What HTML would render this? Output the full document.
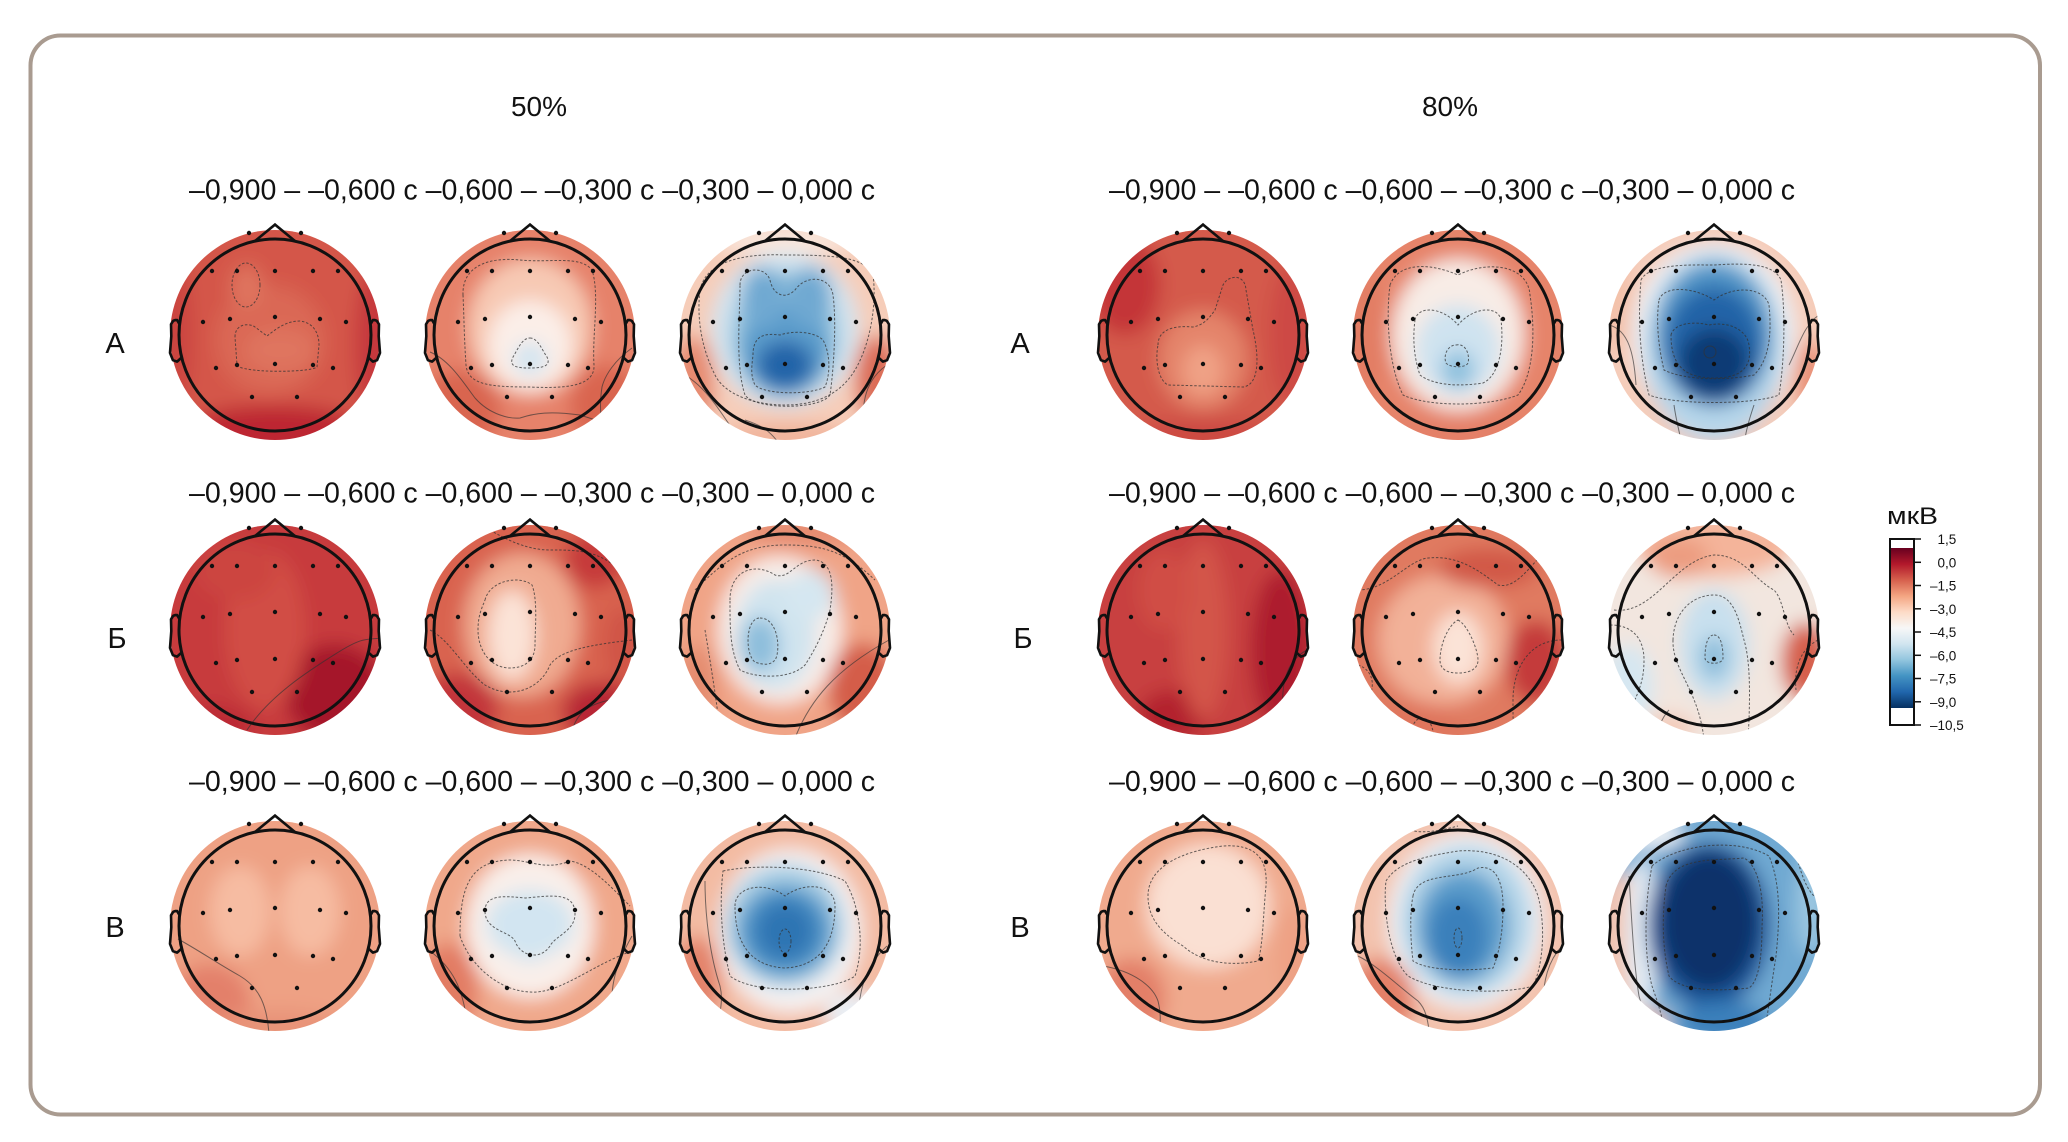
<!DOCTYPE html>
<html><head><meta charset="utf-8">
<style>
html,body{margin:0;padding:0;background:#fff}
svg{display:block}
.d{fill:none;stroke:#333;stroke-width:1;stroke-dasharray:2.5 1.8;opacity:.75}
.s{fill:none;stroke:#333;stroke-width:1;opacity:.65}
.t{font-size:29px;fill:#111}
.cl{font-size:13.5px;fill:#111}
</style></head>
<body>
<svg width="2068" height="1142" viewBox="0 0 2068 1142" xmlns="http://www.w3.org/2000/svg" font-family="'Liberation Sans', 'DejaVu Sans', sans-serif">
<defs>
<clipPath id="dk"><circle r="105"/></clipPath>
<filter id="bl" x="-50%" y="-50%" width="200%" height="200%"><feGaussianBlur stdDeviation="9"/></filter>
<linearGradient id="cb" x1="0" y1="0" x2="0" y2="1">
<stop offset="0" stop-color="#67001f"/><stop offset="0.1" stop-color="#b2182b"/><stop offset="0.2" stop-color="#d6604d"/><stop offset="0.3" stop-color="#f4a582"/><stop offset="0.4" stop-color="#fddbc7"/><stop offset="0.5" stop-color="#f7f7f7"/><stop offset="0.6" stop-color="#d1e5f0"/><stop offset="0.7" stop-color="#92c5de"/><stop offset="0.8" stop-color="#4393c3"/><stop offset="0.9" stop-color="#2166ac"/><stop offset="1" stop-color="#053061"/>
</linearGradient>
<g id="hd">
<circle r="96" fill="none" stroke="#111" stroke-width="3"/>
<polyline points="-20.1,-93.9 0,-110.4 20.1,-93.9" fill="none" stroke="#111" stroke-width="2.6"/>
<path d="M95.4,-10.7 L97.9,-14.9 99.5,-15 101.7,-14.3 104,-10.7 103.7,1.1 105,17.9 102.1,25.2 97.9,26.6 93.9,23" fill="none" stroke="#111" stroke-width="2.6" stroke-linejoin="round"/>
<path d="M-95.4,-10.7 L-97.9,-14.9 -99.5,-15 -101.7,-14.3 -104,-10.7 -103.7,1.1 -105,17.9 -102.1,25.2 -97.9,26.6 -93.9,23" fill="none" stroke="#111" stroke-width="2.6" stroke-linejoin="round"/>
<g fill="#111">
<circle cx="-26" cy="-102" r="2.2"/><circle cx="26" cy="-102" r="2.2"/>
<circle cx="-63" cy="-64" r="2.2"/><circle cx="-38" cy="-64" r="2.2"/><circle cx="0" cy="-64" r="2.2"/><circle cx="38" cy="-64" r="2.2"/><circle cx="63" cy="-64" r="2.2"/>
<circle cx="-72" cy="-13" r="2.2"/><circle cx="-45" cy="-16" r="2.2"/><circle cx="0" cy="-18" r="2.2"/><circle cx="45" cy="-16" r="2.2"/><circle cx="71" cy="-13" r="2.2"/>
<circle cx="-59" cy="33" r="2.2"/><circle cx="-38" cy="30" r="2.2"/><circle cx="0" cy="29" r="2.2"/><circle cx="38" cy="30" r="2.2"/><circle cx="58" cy="33" r="2.2"/>
<circle cx="-23" cy="62" r="2.2"/><circle cx="22" cy="62" r="2.2"/>
</g>
</g>
</defs>

<rect x="0" y="0" width="2068" height="1142" fill="#fff"/>
<rect x="30.5" y="35.5" width="2009.5" height="1079" rx="30" ry="30" fill="none" stroke="#a99b90" stroke-width="4"/>

<text x="539" y="116" text-anchor="middle" style="font-size:28px;fill:#111">50%</text>
<text x="1450" y="116" text-anchor="middle" style="font-size:28px;fill:#111">80%</text>

<g class="t">
<text x="189" y="199.5" textLength="686" lengthAdjust="spacingAndGlyphs">–0,900 – –0,600 с –0,600 – –0,300 с –0,300 – 0,000 с</text>
<text x="189" y="502.5" textLength="686" lengthAdjust="spacingAndGlyphs">–0,900 – –0,600 с –0,600 – –0,300 с –0,300 – 0,000 с</text>
<text x="189" y="791" textLength="686" lengthAdjust="spacingAndGlyphs">–0,900 – –0,600 с –0,600 – –0,300 с –0,300 – 0,000 с</text>
<text x="1109" y="199.5" textLength="686" lengthAdjust="spacingAndGlyphs">–0,900 – –0,600 с –0,600 – –0,300 с –0,300 – 0,000 с</text>
<text x="1109" y="502.5" textLength="686" lengthAdjust="spacingAndGlyphs">–0,900 – –0,600 с –0,600 – –0,300 с –0,300 – 0,000 с</text>
<text x="1109" y="791" textLength="686" lengthAdjust="spacingAndGlyphs">–0,900 – –0,600 с –0,600 – –0,300 с –0,300 – 0,000 с</text>
</g>

<g class="t">
<text x="115" y="353" text-anchor="middle">А</text>
<text x="117" y="648" text-anchor="middle">Б</text>
<text x="115" y="937" text-anchor="middle">В</text>
<text x="1020" y="353" text-anchor="middle">А</text>
<text x="1023" y="648" text-anchor="middle">Б</text>
<text x="1020" y="937" text-anchor="middle">В</text>
</g>

<!-- L A1 -->
<g transform="translate(275,335)">
<g clip-path="url(#dk)">
<g filter="url(#bl)">
<rect x="-140" y="-140" width="280" height="280" fill="#d4574a"/>
<ellipse cx="0" cy="100" rx="95" ry="30" fill="#bd2732"/>
<ellipse cx="-100" cy="0" rx="18" ry="80" fill="#cb4440"/>
<ellipse cx="100" cy="10" rx="20" ry="80" fill="#c6393c"/>
<ellipse cx="-5" cy="5" rx="55" ry="55" fill="#da6854"/>
<ellipse cx="-28" cy="-48" rx="16" ry="22" fill="#df745e"/>
<ellipse cx="5" cy="15" rx="35" ry="22" fill="#df745e"/>
</g>
<ellipse class="d" cx="-29" cy="-50" rx="14" ry="22"/>
<path class="d" d="M-40,2 C-40,-12 -25,-12 -20,-8 L-8,1 C0,-5 10,-14 25,-14 C40,-12 44,0 44,10 L42,32 C35,38 -35,38 -38,30 Z"/>
</g>
<use href="#hd"/>
</g>

<!-- L A2 -->
<g transform="translate(530,335)">
<g clip-path="url(#dk)">
<g filter="url(#bl)">
<rect x="-140" y="-140" width="280" height="280" fill="#e6826a"/>
<ellipse cx="-70" cy="75" rx="40" ry="40" fill="#d9654f"/>
<ellipse cx="75" cy="70" rx="35" ry="40" fill="#d9654f"/>
<ellipse cx="0" cy="-8" rx="62" ry="68" fill="#f7c9b4"/>
<ellipse cx="0" cy="10" rx="42" ry="45" fill="#fbeee8"/>
<ellipse cx="0" cy="24" rx="17" ry="17" fill="#d3e5f1"/>
</g>
<path class="d" d="M-67,-40 C-68,-70 -40,-78 -10,-75 C20,-72 50,-80 62,-65 C70,-40 62,0 64,30 C65,50 40,54 0,52 C-40,52 -62,50 -64,30 C-66,0 -66,-20 -67,-40 Z"/>
<path class="d" d="M0,3 C8,3 12,15 17,22 C22,32 10,33 0,33 C-12,33 -22,32 -17,22 C-12,14 -8,3 0,3 Z"/>
<path class="s" d="M-100,17 C-80,25 -65,50 -55,63 C-40,80 -20,84 -10,83 C5,78 20,76 50,80 L75,88"/>
<path class="s" d="M102,13 C85,25 75,40 72,52 C70,65 70,75 72,92"/>
</g>
<use href="#hd"/>
</g>

<!-- L A3 -->
<g transform="translate(785,335)">
<g clip-path="url(#dk)">
<g filter="url(#bl)">
<rect x="-140" y="-140" width="280" height="280" fill="#f6cdb9"/>
<ellipse cx="-92" cy="50" rx="22" ry="50" fill="#e68a70"/>
<ellipse cx="92" cy="45" rx="22" ry="45" fill="#dc6c56"/>
<ellipse cx="0" cy="102" rx="70" ry="14" fill="#f0b29a"/>
<ellipse cx="0" cy="-95" rx="70" ry="14" fill="#f9e6dc"/>
<ellipse cx="0" cy="-5" rx="74" ry="78" fill="#d2e4ef"/>
<ellipse cx="0" cy="0" rx="54" ry="64" fill="#93c2de"/>
<ellipse cx="0" cy="15" rx="44" ry="46" fill="#5a9bcb"/>
<ellipse cx="-22" cy="-38" rx="22" ry="30" fill="#70a9d2"/>
<ellipse cx="25" cy="-38" rx="22" ry="30" fill="#70a9d2"/>
<ellipse cx="0" cy="30" rx="28" ry="24" fill="#2063a8"/>
</g>
<path class="d" d="M-85,-45 C-80,-70 -50,-82 0,-80 C50,-80 80,-78 88,-60 C92,-30 85,10 70,35 C55,60 30,70 0,70 C-30,70 -60,60 -70,40 C-85,10 -88,-20 -85,-45 Z"/>
<path class="d" d="M-45,-50 C-45,-68 -20,-70 -15,-55 C-12,-40 0,-35 10,-45 C20,-60 45,-60 48,-40 C52,-10 48,40 45,60 C35,75 -30,75 -40,60 C-50,30 -45,-20 -45,-50 Z"/>
<path class="d" d="M-32,20 C-32,0 -20,-2 -5,0 C10,-5 30,-3 38,5 C46,20 45,40 40,52 C25,60 -20,60 -30,50 C-35,40 -33,30 -32,20 Z"/>
<path class="s" d="M-100,40 C-75,55 -60,85 -45,105"/>
<path class="s" d="M102,30 C80,45 75,70 80,100"/>
<path class="s" d="M-40,85 C-25,90 -15,95 -5,110"/>
</g>
<use href="#hd"/>
</g>

<!-- L Б1 -->
<g transform="translate(275,630)">
<g clip-path="url(#dk)">
<g filter="url(#bl)">
<rect x="-140" y="-140" width="280" height="280" fill="#c73a3d"/>
<ellipse cx="60" cy="62" rx="50" ry="48" fill="#a5122b"/>
<ellipse cx="-10" cy="0" rx="40" ry="80" fill="#d14d45"/>
<ellipse cx="-40" cy="-60" rx="40" ry="30" fill="#cc4541"/>
<ellipse cx="-60" cy="95" rx="40" ry="20" fill="#bb2a35"/>
</g>
<path class="s" d="M-28,100 C-5,65 35,40 62,23 S92,10 106,8"/>
</g>
<use href="#hd"/>
</g>

<!-- L Б2 -->
<g transform="translate(530,630)">
<g clip-path="url(#dk)">
<g filter="url(#bl)">
<rect x="-140" y="-140" width="280" height="280" fill="#d9644f"/>
<ellipse cx="-8" cy="-5" rx="58" ry="72" fill="#f0ab91"/>
<ellipse cx="-18" cy="5" rx="24" ry="45" fill="#fbe3d7"/>
<ellipse cx="65" cy="-70" rx="30" ry="28" fill="#c63a3b"/>
<ellipse cx="-72" cy="78" rx="40" ry="35" fill="#c2343a"/>
<ellipse cx="72" cy="82" rx="40" ry="30" fill="#b82535"/>
<ellipse cx="92" cy="15" rx="18" ry="40" fill="#d05547"/>
</g>
<path class="d" d="M-45,-30 C-40,-50 -10,-55 2,-45 C8,-30 5,0 5,15 C5,30 -5,38 -20,38 C-40,38 -52,20 -52,0 C-52,-15 -48,-22 -45,-30 Z"/>
<path class="d" d="M-40,-100 C-20,-88 0,-80 20,-80 C50,-80 70,-80 95,-55"/>
<path class="d" d="M-100,0 C-80,10 -65,40 -45,55 C-20,70 10,60 20,35 C30,20 60,15 102,10"/>
<path class="s" d="M-95,60 C-80,75 -70,90 -62,108"/>
<path class="s" d="M40,108 C45,85 55,75 80,70"/>
</g>
<use href="#hd"/>
</g>

<!-- L Б3 -->
<g transform="translate(785,630)">
<g clip-path="url(#dk)">
<g filter="url(#bl)">
<rect x="-140" y="-140" width="280" height="280" fill="#f0a487"/>
<ellipse cx="-5" cy="0" rx="62" ry="74" fill="#f8ede8"/>
<ellipse cx="-10" cy="5" rx="40" ry="55" fill="#d0e4ef"/>
<ellipse cx="25" cy="-35" rx="25" ry="25" fill="#d5e7f1"/>
<ellipse cx="-25" cy="15" rx="20" ry="28" fill="#8dbedc"/>
<ellipse cx="78" cy="58" rx="35" ry="45" fill="#d45d4a"/>
<ellipse cx="20" cy="-98" rx="60" ry="14" fill="#e58a70"/>
<ellipse cx="-88" cy="55" rx="20" ry="40" fill="#e48c70"/>
</g>
<path class="d" d="M-55,-30 C-55,-60 -30,-68 -10,-55 C5,-50 10,-70 30,-70 C50,-68 48,-40 45,-20 C40,0 30,20 20,35 C5,50 -30,48 -45,40 C-55,20 -55,0 -55,-30 Z"/>
<path class="d" d="M-25,-12 C-10,-12 -5,10 -8,25 C-10,35 -20,36 -30,32 C-40,25 -40,-12 -25,-12 Z"/>
<path class="d" d="M-90,-40 C-60,-70 -40,-85 0,-85 C40,-85 60,-78 90,-50"/>
<path class="d" d="M-80,0 C-75,30 -70,60 -65,100"/>
<path class="s" d="M10,108 C25,70 50,40 104,10"/>
</g>
<use href="#hd"/>
</g>

<!-- L В1 -->
<g transform="translate(275,926)">
<g clip-path="url(#dk)">
<g filter="url(#bl)">
<rect x="-140" y="-140" width="280" height="280" fill="#eea184"/>
<ellipse cx="-35" cy="-15" rx="30" ry="45" fill="#f6bca2"/>
<ellipse cx="35" cy="-15" rx="30" ry="45" fill="#f6bca2"/>
<ellipse cx="-65" cy="78" rx="40" ry="40" fill="#e3806a"/>
<ellipse cx="0" cy="102" rx="70" ry="18" fill="#e89378"/>
</g>
<path class="s" d="M-97,13 C-75,25 -60,36 -35,50 C-15,62 -8,80 -6,108"/>
</g>
<use href="#hd"/>
</g>

<!-- L В2 -->
<g transform="translate(530,926)">
<g clip-path="url(#dk)">
<g filter="url(#bl)">
<rect x="-140" y="-140" width="280" height="280" fill="#f0a88b"/>
<ellipse cx="0" cy="0" rx="64" ry="72" fill="#f9efea"/>
<ellipse cx="0" cy="-2" rx="44" ry="34" fill="#d2e5f1"/>
<ellipse cx="0" cy="18" rx="20" ry="18" fill="#d2e5f1"/>
<ellipse cx="-82" cy="62" rx="30" ry="45" fill="#e27c64"/>
<ellipse cx="72" cy="-72" rx="30" ry="25" fill="#eea184"/>
</g>
<path class="d" d="M-45,-15 C-45,-32 -25,-30 -5,-28 C20,-30 45,-35 45,-12 C45,5 25,10 20,20 C10,35 -10,30 -15,15 C-20,5 -45,5 -45,-15 Z"/>
<path class="d" d="M-70,10 C-70,-40 -60,-65 -20,-66 C0,-66 15,-55 40,-65 C60,-62 80,-40 100,-20"/>
<path class="d" d="M-70,10 C-60,40 -30,65 0,66 C30,68 60,40 102,25"/>
<path class="s" d="M-100,25 C-80,40 -65,60 -62,108"/>
<path class="s" d="M102,10 C85,40 80,60 82,90"/>
</g>
<use href="#hd"/>
</g>

<!-- L В3 -->
<g transform="translate(785,926)">
<g clip-path="url(#dk)">
<g filter="url(#bl)">
<rect x="-140" y="-140" width="280" height="280" fill="#f3bba3"/>
<ellipse cx="5" cy="5" rx="72" ry="82" fill="#f5f2f2"/>
<ellipse cx="0" cy="0" rx="60" ry="62" fill="#a9cfe5"/>
<ellipse cx="0" cy="5" rx="47" ry="46" fill="#4f94c7"/>
<ellipse cx="0" cy="5" rx="30" ry="30" fill="#2e74b3"/>
<ellipse cx="-88" cy="55" rx="24" ry="45" fill="#e3836a"/>
<ellipse cx="70" cy="88" rx="30" ry="22" fill="#e9eff5"/>
</g>
<path class="d" d="M-50,-20 C-50,-40 -20,-45 0,-30 C20,-45 50,-42 50,-20 C50,10 40,40 0,42 C-40,40 -50,10 -50,-20 Z"/>
<ellipse class="d" cx="0" cy="15" rx="6" ry="12"/>
<path class="d" d="M-62,-55 C-30,-62 30,-60 60,-45 C75,-20 80,20 70,50 C50,65 -30,70 -55,50 C-65,10 -65,-30 -62,-55 Z"/>
<path class="s" d="M-80,-45 C-80,-10 -75,30 -65,60 C-60,80 -70,95 -65,110"/>
<path class="s" d="M102,20 C80,40 70,70 75,108"/>
</g>
<use href="#hd"/>
</g>

<!-- R A1 -->
<g transform="translate(1203,335)">
<g clip-path="url(#dk)">
<g filter="url(#bl)">
<rect x="-140" y="-140" width="280" height="280" fill="#d45a4b"/>
<ellipse cx="-78" cy="-50" rx="35" ry="50" fill="#c43538"/>
<ellipse cx="0" cy="25" rx="45" ry="50" fill="#e4846a"/>
<ellipse cx="0" cy="35" rx="20" ry="25" fill="#f0a286"/>
<ellipse cx="88" cy="0" rx="22" ry="70" fill="#cd4a44"/>
<ellipse cx="0" cy="100" rx="70" ry="16" fill="#cc4843"/>
</g>
<path class="d" d="M-45,10 C-45,-5 -30,-10 -10,-8 C0,-10 5,-15 12,-25 L20,-50 C25,-60 42,-62 43,-45 L50,-5 C56,20 57,50 40,52 L-35,50 C-45,45 -48,25 -45,10 Z"/>
</g>
<use href="#hd"/>
</g>

<!-- R A2 -->
<g transform="translate(1458,335)">
<g clip-path="url(#dk)">
<g filter="url(#bl)">
<rect x="-140" y="-140" width="280" height="280" fill="#e6846b"/>
<ellipse cx="0" cy="0" rx="66" ry="76" fill="#f8ece6"/>
<ellipse cx="0" cy="15" rx="42" ry="45" fill="#cfe3f0"/>
<ellipse cx="0" cy="35" rx="17" ry="20" fill="#8fc1de"/>
<ellipse cx="0" cy="98" rx="70" ry="18" fill="#e48067"/>
<ellipse cx="-92" cy="0" rx="18" ry="60" fill="#e27d64"/>
</g>
<path class="d" d="M-68,-50 C-60,-72 -30,-73 0,-60 C30,-75 70,-70 72,-40 C78,0 75,40 60,60 C30,72 -30,72 -55,60 C-70,30 -72,-20 -68,-50 Z"/>
<path class="d" d="M-43,-15 C-40,-30 -15,-28 0,-10 C15,-28 40,-30 43,-15 C46,10 42,40 25,48 C0,52 -25,50 -38,40 C-45,20 -45,0 -43,-15 Z"/>
<path class="d" d="M-2,10 C8,8 12,20 10,28 C8,33 -8,33 -12,28 C-15,20 -10,10 -2,10 Z"/>
</g>
<use href="#hd"/>
</g>

<!-- R A3 -->
<g transform="translate(1714,335)">
<g clip-path="url(#dk)">
<g filter="url(#bl)">
<rect x="-140" y="-140" width="280" height="280" fill="#f5ccb9"/>
<ellipse cx="0" cy="0" rx="82" ry="92" fill="#eef2f6"/>
<ellipse cx="0" cy="12" rx="70" ry="95" fill="#b6d6ea"/>
<ellipse cx="0" cy="0" rx="58" ry="72" fill="#4e93c6"/>
<ellipse cx="0" cy="10" rx="48" ry="58" fill="#2463a7"/>
<ellipse cx="0" cy="28" rx="35" ry="35" fill="#0b3a74"/>
<ellipse cx="-97" cy="-30" rx="14" ry="50" fill="#f3c0a8"/>
<ellipse cx="97" cy="45" rx="15" ry="40" fill="#e88d72"/>
</g>
<path class="d" d="M-73,-55 C-65,-72 -20,-70 0,-70 C30,-72 60,-72 67,-55 C72,-20 70,30 65,60 C40,70 -40,70 -65,60 C-75,20 -76,-20 -73,-55 Z"/>
<path class="d" d="M-55,-35 C-50,-50 -20,-48 0,-35 C20,-50 50,-48 55,-30 C58,0 55,25 40,40 C10,46 -30,45 -50,35 C-56,10 -58,-15 -55,-35 Z"/>
<path class="d" d="M-43,0 C-40,-12 -20,-14 -5,-10 C15,-14 33,-5 35,10 C38,30 30,43 0,43 C-30,43 -43,30 -43,0 Z"/>
<circle class="s" cx="-4" cy="17" r="6"/>
<path class="s" d="M-105,-10 C-85,-5 -80,20 -78,50"/>
<path class="s" d="M105,-20 C90,-10 85,10 75,30"/>
<path class="s" d="M-40,70 C-38,85 -35,95 -32,110"/>
<path class="s" d="M40,70 C35,85 32,95 30,110"/>
</g>
<use href="#hd"/>
</g>

<!-- R Б1 -->
<g transform="translate(1203,630)">
<g clip-path="url(#dk)">
<g filter="url(#bl)">
<rect x="-140" y="-140" width="280" height="280" fill="#c8403f"/>
<ellipse cx="78" cy="20" rx="30" ry="80" fill="#ad1a2e"/>
<ellipse cx="-30" cy="85" rx="35" ry="25" fill="#b3202f"/>
<ellipse cx="0" cy="0" rx="25" ry="90" fill="#d35548"/>
<ellipse cx="-40" cy="-40" rx="25" ry="40" fill="#d04e45"/>
</g>
<path class="s" d="M104,20 C85,30 78,50 80,80"/>
</g>
<use href="#hd"/>
</g>

<!-- R Б2 -->
<g transform="translate(1458,630)">
<g clip-path="url(#dk)">
<g filter="url(#bl)">
<rect x="-140" y="-140" width="280" height="280" fill="#e07a60"/>
<ellipse cx="-15" cy="10" rx="65" ry="65" fill="#f2b198"/>
<ellipse cx="0" cy="18" rx="25" ry="36" fill="#fbe3d7"/>
<ellipse cx="78" cy="32" rx="30" ry="42" fill="#c43a3a"/>
<ellipse cx="30" cy="-62" rx="50" ry="20" fill="#d15846"/>
<ellipse cx="-40" cy="92" rx="40" ry="20" fill="#df755c"/>
</g>
<path class="d" d="M0,-10 C10,-5 20,20 20,30 C20,40 10,43 0,43 C-10,43 -18,40 -18,30 C-18,15 -10,-5 0,-10 Z"/>
<path class="d" d="M-100,-40 C-70,-40 -50,-70 -30,-72 C0,-75 20,-60 40,-45 C60,-40 75,-70 90,-80"/>
<path class="d" d="M104,10 C70,10 55,40 55,70 C55,90 55,100 57,110"/>
<path class="d" d="M-100,35 C-85,40 -82,55 -90,70"/>
<path class="d" d="M-50,110 C-45,90 -40,85 -30,90 C-25,95 -25,105 -22,110"/>
</g>
<use href="#hd"/>
</g>

<!-- R Б3 -->
<g transform="translate(1714,630)">
<g clip-path="url(#dk)">
<g filter="url(#bl)">
<rect x="-140" y="-140" width="280" height="280" fill="#f2e6df"/>
<ellipse cx="0" cy="-85" rx="80" ry="32" fill="#f4b49a"/>
<ellipse cx="-35" cy="-72" rx="30" ry="20" fill="#ec9c80"/>
<ellipse cx="92" cy="32" rx="25" ry="40" fill="#d65f4c"/>
<ellipse cx="0" cy="15" rx="35" ry="55" fill="#c8e0ee"/>
<ellipse cx="0" cy="28" rx="15" ry="22" fill="#8cbddb"/>
<ellipse cx="-85" cy="55" rx="25" ry="40" fill="#d6e7f1"/>
<ellipse cx="-45" cy="98" rx="25" ry="14" fill="#f3c9b7"/>
</g>
<path class="d" d="M-41,10 C-40,-20 -20,-35 0,-35 C20,-35 25,-10 30,10 C36,30 36,60 35,90 L34,110"/>
<path class="d" d="M-41,10 C-42,40 -15,60 -10,110"/>
<path class="d" d="M0,5 C8,5 9,20 9,28 C9,35 -9,35 -9,28 C-9,20 -8,5 0,5 Z"/>
<path class="d" d="M-100,-20 C-60,-15 -40,-70 0,-75 C30,-75 40,-50 60,-40 C70,-30 70,-5 80,5"/>
<path class="d" d="M-104,-5 C-80,-5 -70,10 -70,30 C-70,50 -75,60 -80,72"/>
<path class="d" d="M104,10 C85,20 80,40 82,60"/>
<path class="s" d="M-60,110 C-55,95 -50,85 -45,80"/>
</g>
<use href="#hd"/>
</g>

<!-- R В1 -->
<g transform="translate(1203,926)">
<g clip-path="url(#dk)">
<g filter="url(#bl)">
<rect x="-140" y="-140" width="280" height="280" fill="#f0aa8e"/>
<ellipse cx="5" cy="-20" rx="62" ry="62" fill="#fae0d3"/>
<ellipse cx="-72" cy="72" rx="35" ry="40" fill="#e37f67"/>
<ellipse cx="92" cy="30" rx="18" ry="50" fill="#eda084"/>
</g>
<path class="d" d="M-55,-30 C-55,-60 -20,-75 20,-80 C50,-82 65,-70 63,-40 C60,-10 60,20 55,35 C30,40 0,38 -20,20 C-45,5 -55,-10 -55,-30 Z"/>
<path class="s" d="M-100,40 C-70,45 -50,60 -45,75 C-40,95 -45,105 -45,110"/>
</g>
<use href="#hd"/>
</g>

<!-- R В2 -->
<g transform="translate(1458,926)">
<g clip-path="url(#dk)">
<g filter="url(#bl)">
<rect x="-140" y="-140" width="280" height="280" fill="#f3c2ad"/>
<ellipse cx="8" cy="-5" rx="78" ry="88" fill="#f2f4f7"/>
<ellipse cx="8" cy="-5" rx="66" ry="76" fill="#b3d4e8"/>
<ellipse cx="5" cy="0" rx="46" ry="56" fill="#5d9ecc"/>
<ellipse cx="0" cy="10" rx="30" ry="40" fill="#3a80bb"/>
<ellipse cx="-78" cy="72" rx="35" ry="40" fill="#e38068"/>
<ellipse cx="-72" cy="-82" rx="22" ry="20" fill="#f4c7b4"/>
</g>
<path class="d" d="M-45,-30 C-40,-55 0,-45 20,-58 C40,-62 45,-40 45,-20 C45,10 40,30 35,42 C10,45 -30,45 -45,35 C-48,10 -48,-15 -45,-30 Z"/>
<path class="d" d="M-72,-45 C-60,-65 -30,-70 0,-75 C40,-78 70,-60 80,-30 C88,0 85,40 75,60 C50,68 -20,68 -50,50 C-70,30 -75,-20 -72,-45 Z"/>
<ellipse class="d" cx="0" cy="12" rx="4" ry="10"/>
<path class="s" d="M-100,30 C-80,40 -60,60 -40,75 C-30,85 -30,100 -28,110"/>
<path class="s" d="M104,20 C90,35 85,55 85,80"/>
<path class="d" d="M-60,-100 C-40,-90 -20,-95 0,-100"/>
</g>
<use href="#hd"/>
</g>

<!-- R В3 -->
<g transform="translate(1714,926)">
<g clip-path="url(#dk)">
<g filter="url(#bl)">
<rect x="-140" y="-140" width="280" height="280" fill="#6fa9d2"/>
<ellipse cx="-95" cy="20" rx="25" ry="75" fill="#f2c2ae"/>
<ellipse cx="-72" cy="10" rx="16" ry="80" fill="#e2ecf4"/>
<ellipse cx="96" cy="-20" rx="14" ry="50" fill="#9cc7e1"/>
<ellipse cx="-5" cy="0" rx="62" ry="84" fill="#1d5a9e"/>
<ellipse cx="-5" cy="-5" rx="50" ry="70" fill="#08306b"/>
<ellipse cx="10" cy="96" rx="45" ry="20" fill="#3a80bb"/>
<ellipse cx="-60" cy="-92" rx="30" ry="14" fill="#eef2f6"/>
<ellipse cx="-70" cy="98" rx="25" ry="15" fill="#f2c2ae"/>
</g>
<path class="d" d="M-48,-40 C-40,-70 0,-65 30,-68 C45,-60 50,-30 48,0 C48,30 45,55 35,62 C0,66 -35,64 -45,50 C-52,20 -52,-10 -48,-40 Z"/>
<path class="d" d="M-62,-60 C-40,-80 20,-90 55,-70 C68,-40 65,0 62,30 C58,55 55,80 50,110"/>
<path class="d" d="M-62,-60 C-70,-20 -70,30 -62,60 C-55,80 -50,95 -50,110"/>
<path class="s" d="M-85,-50 C-82,0 -80,40 -75,70 C-70,85 -70,100 -72,110"/>
<path class="d" d="M80,-80 C85,-60 90,-40 100,-30"/>
</g>
<use href="#hd"/>
</g>

<!-- colorbar -->
<text x="1887" y="524" textLength="51" lengthAdjust="spacingAndGlyphs" style="font-size:24px;fill:#111">мкВ</text>
<rect x="1890" y="539" width="24" height="186" fill="#fff"/>
<rect x="1890" y="548" width="24" height="160" fill="url(#cb)"/>
<rect x="1890" y="539" width="24" height="186" fill="none" stroke="#111" stroke-width="2"/>
<g stroke="#111" stroke-width="1.5">
<line x1="1914" y1="539" x2="1921" y2="539"/>
<line x1="1914" y1="562.3" x2="1921" y2="562.3"/>
<line x1="1914" y1="585.5" x2="1921" y2="585.5"/>
<line x1="1914" y1="608.8" x2="1921" y2="608.8"/>
<line x1="1914" y1="632" x2="1921" y2="632"/>
<line x1="1914" y1="655.3" x2="1921" y2="655.3"/>
<line x1="1914" y1="678.5" x2="1921" y2="678.5"/>
<line x1="1914" y1="701.8" x2="1921" y2="701.8"/>
<line x1="1914" y1="725" x2="1921" y2="725"/>
</g>
<g class="cl">
<text x="1937.5" y="544">1,5</text>
<text x="1937.5" y="567.3">0,0</text>
<text x="1930" y="590.5">–1,5</text>
<text x="1930" y="613.8">–3,0</text>
<text x="1930" y="637">–4,5</text>
<text x="1930" y="660.3">–6,0</text>
<text x="1930" y="683.5">–7,5</text>
<text x="1930" y="706.8">–9,0</text>
<text x="1930" y="730">–10,5</text>
</g>
</svg>
</body></html>
